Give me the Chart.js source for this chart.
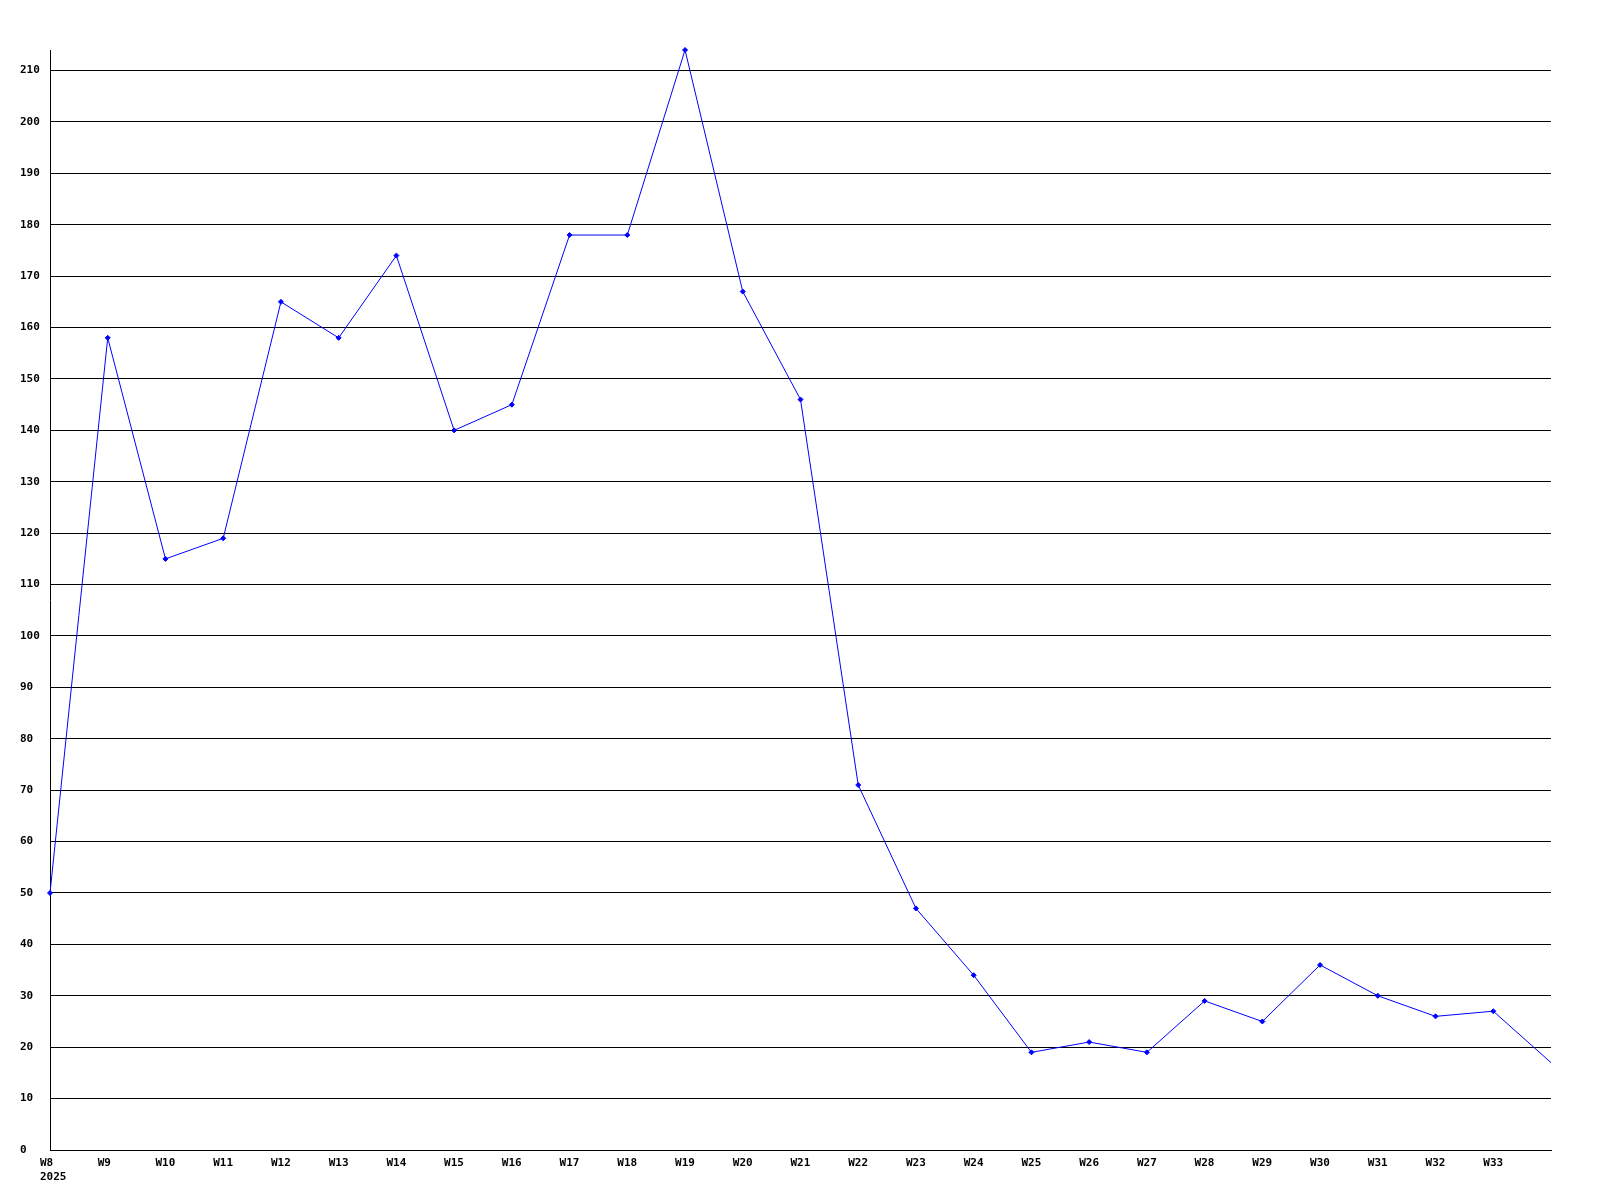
<!DOCTYPE html>
<html>
<head>
<meta charset="utf-8">
<style>
  html, body { margin: 0; padding: 0; background: #fff; }
  canvas { display: block; }
</style>
<script src="https://cdn.jsdelivr.net/npm/chart.js@4/dist/chart.umd.min.js"></script>
</head>
<body>
<canvas id="chartSemanas" width="1600" height="1200"></canvas>
<script>
// semanas y valores
const semanas = [
    "W8", "W9", "W10", "W11", "W12", "W13", "W14", "W15", "W16", "W17",
    "W18", "W19", "W20", "W21", "W22", "W23", "W24", "W25", "W26", "W27",
    "W28", "W29", "W30", "W31", "W32", "W33", "W34"
];
const anio = "2025";
const valores = [
    50, 158, 115, 119, 165, 158, 174, 140, 145, 178,
    178, 214, 167, 146, 71, 47, 34, 19, 21, 19,
    29, 25, 36, 30, 26, 27, 17
];
const pasoY = 10;

document.addEventListener("DOMContentLoaded", function () {
    Chart.defaults.font.family = "'DejaVu Sans Mono', monospace";
    Chart.defaults.font.size = 11;
    Chart.defaults.font.weight = "bold";
    Chart.defaults.color = "#000";

    const ultimo = valores.length - 1;
    const ctx = document.getElementById("chartSemanas").getContext("2d");

    new Chart(ctx, {
        type: "line",
        data: {
            labels: semanas,
            datasets: [{
                data: valores,
                borderColor: "#0000ff",
                backgroundColor: "#0000ff",
                borderWidth: 1,
                pointStyle: "rectRot",
                pointRadius: c => c.dataIndex === ultimo ? 0 : 2.5,
                pointHoverRadius: 0,
                tension: 0,
                fill: false,
                clip: false
            }]
        },
        options: {
            responsive: false,
            animation: false,
            events: [],
            layout: { padding: { left: 20, top: 50, right: 49, bottom: 0 } },
            plugins: {
                legend: { display: false },
                tooltip: { enabled: false }
            },
            scales: {
                x: {
                    offset: false,
                    grid: { display: false, drawTicks: false },
                    border: { display: true, color: "#000", width: 1 },
                    ticks: {
                        autoSkip: false,
                        maxRotation: 0,
                        align: "start",
                        labelOffset: -10,
                        padding: 7,
                        callback: function (v, i) {
                            if (i === ultimo) return "";
                            if (i === 0) return [semanas[i], anio];
                            return semanas[i];
                        }
                    },
                    afterFit: s => { s.height = 50; }
                },
                y: {
                    min: 0,
                    max: Math.max(...valores),
                    grid: { color: "#000", lineWidth: 1, drawTicks: false },
                    border: { display: true, color: "#000", width: 1 },
                    ticks: {
                        stepSize: pasoY,
                        crossAlign: "far",
                        padding: 0
                    },
                    afterBuildTicks: s => {
                        s.ticks = s.ticks.filter(t => t.value % pasoY === 0);
                    },
                    afterFit: s => { s.width = 30; }
                }
            }
        }
    });
});
</script>
</body>
</html>
